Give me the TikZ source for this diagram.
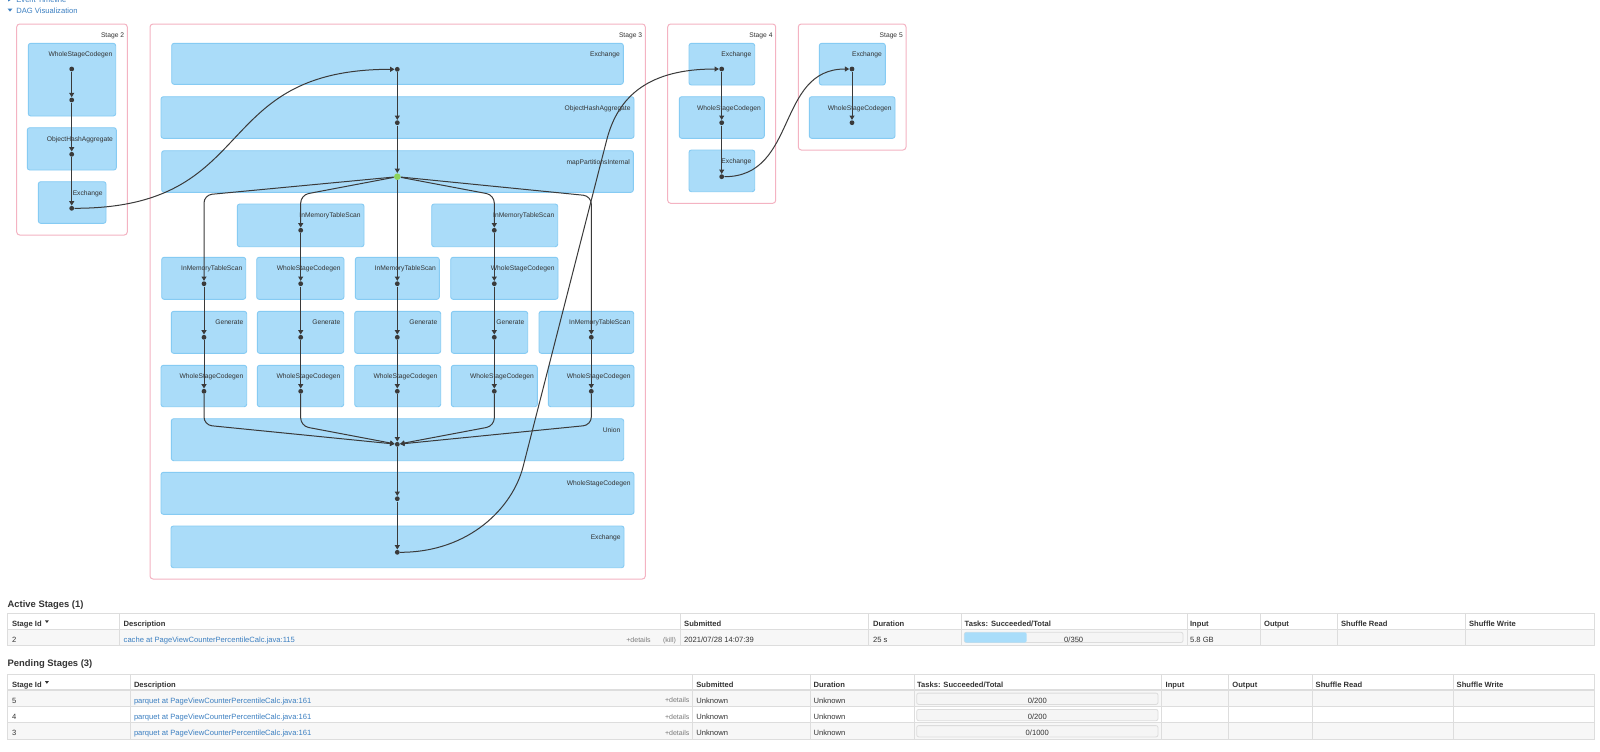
\documentclass[tikz,border=0pt]{standalone}
\usepackage{fontspec}
\setmainfont{Liberation Sans}
\usetikzlibrary{arrows.meta,fit}

\definecolor{nodefill}{HTML}{AADCF9}
\definecolor{nodeline}{HTML}{86CBF3}
\definecolor{stageline}{HTML}{F4B3C2}
\definecolor{ink}{HTML}{333333}
\definecolor{edgec}{HTML}{3A3A3A}
\definecolor{cached}{HTML}{8CD35A}
\definecolor{linkc}{HTML}{3B7FC1}
\definecolor{gridc}{HTML}{DDDDDD}
\definecolor{rowbg}{HTML}{F7F7F7}
\definecolor{barbg}{HTML}{F5F5F5}
\definecolor{barline}{HTML}{DCDCDC}
\definecolor{barfill}{HTML}{A9DDFA}
\definecolor{muted}{HTML}{7A7A7A}

\tikzset{
  stagebox/.style={draw=stageline, fill=white, line width=0.5pt, rounded corners=1.5pt, inner sep=0pt},
  opbox/.style={draw=nodeline, fill=nodefill, line width=0.45pt, rounded corners=1.2pt, inner sep=0pt},
  lbl/.style={font=\fontsize{3.35}{4}\selectfont, text=ink, inner sep=0pt, anchor=mid east},
  rdd/.style={circle, fill=edgec, inner sep=0pt, minimum size=2.4pt},
  rddc/.style={circle, fill=cached, inner sep=0pt, minimum size=3.3pt},
  dep/.style={draw=edgec, line width=0.5pt, -{Triangle[length=2.2pt,width=2.5pt]}},
  hdr/.style={font=\fontsize{3.8}{4.5}\selectfont, text=linkc, inner sep=0pt},
  sect/.style={font=\fontsize{4.7}{5.6}\selectfont\bfseries, text=ink, inner sep=0pt, anchor=mid west},
  th/.style={font=\fontsize{3.8}{4.5}\selectfont\bfseries, text=ink, inner sep=0pt, anchor=mid west},
  td/.style={font=\fontsize{3.8}{4.5}\selectfont, text=ink, inner sep=0pt, anchor=mid west},
  tdl/.style={font=\fontsize{3.8}{4.5}\selectfont, text=linkc, inner sep=0pt, anchor=mid west},
  tdm/.style={font=\fontsize{3.5}{4.2}\selectfont, text=muted, inner sep=0pt},
  tdc/.style={font=\fontsize{3.8}{4.5}\selectfont, text=ink, inner sep=0pt, anchor=mid},
  gridline/.style={draw=gridc, line width=0.5pt},
  headline/.style={draw=gridc, line width=0.8pt},
  barout/.style={draw=barline, fill=barbg, line width=0.4pt, rounded corners=1pt},
  barin/.style={fill=barfill, rounded corners=1pt},
  elbow/.style={rounded corners=4pt},
}

\newcommand\opnode[6]{%
  \node[opbox, fit={(#2,#3)(#4,#5)}] (#1) {};
  \node[lbl] (#1l) at ([shift={(-3.5,8.5)}]#1.north east) {#6};
}
\newcommand\stagenode[6]{%
  \node[stagebox, fit={(#2,#3)(#4,#5)}] (#1) {};
  \node[lbl] (#1l) at ([shift={(-3.3,8.3)}]#1.north east) {#6};
}

\begin{document}
\begin{tikzpicture}[x=0.5pt,y=-0.5pt]
\fill[white] (0,0) rectangle (1600,751);
\useasboundingbox (0,0) rectangle (1600,751);

% header links
\fill[linkc] (8,-2.5) -- (11.5,-0.5) -- (8,1.5) -- cycle;
\node[hdr, anchor=base west] (evt) at (16,2.5) {Event Timeline};
\fill[linkc] (7.6,8.6) -- (12.4,8.6) -- (10,11.6) -- cycle;
\node[hdr, anchor=base west] (dagv) at (16,13) {DAG Visualization};

% stages
\stagenode{st2}{16.7}{24}{127.3}{235}{Stage 2}
\stagenode{st3}{150}{24}{645.3}{579}{Stage 3}
\stagenode{st4}{667.7}{24}{775.7}{203.3}{Stage 4}
\stagenode{st5}{798.3}{24}{906}{150}{Stage 5}

% stage 2 operators
\opnode{n2a}{28.3}{43.3}{115.7}{116}{WholeStageCodegen}
\opnode{n2b}{27.3}{127.7}{116.3}{170}{ObjectHashAggregate}
\opnode{n2c}{38.3}{181.7}{106}{223.3}{Exchange}

% stage 3 operators
\opnode{n3a}{171.7}{43.3}{623.3}{84.3}{Exchange}
\opnode{n3b}{161}{96.7}{634}{138.3}{ObjectHashAggregate}
\opnode{n3c}{161.7}{150.7}{633.3}{192.3}{mapPartitionsInternal}
\opnode{na1}{237.3}{204}{364}{246.7}{InMemoryTableScan}
\opnode{na2}{431.7}{204}{557.7}{246.7}{InMemoryTableScan}
\opnode{nb1}{161.7}{257.3}{245.7}{299.3}{InMemoryTableScan}
\opnode{nb2}{256.7}{257.3}{344}{299.3}{WholeStageCodegen}
\opnode{nb3}{355.3}{257.3}{439.3}{299.3}{InMemoryTableScan}
\opnode{nb4}{450.7}{257.3}{558}{299.3}{WholeStageCodegen}
\opnode{nc1}{171.3}{311.3}{246.7}{353.3}{Generate}
\opnode{nc2}{257.3}{311.3}{343.7}{353.3}{Generate}
\opnode{nc3}{354.7}{311.3}{440.7}{353.3}{Generate}
\opnode{nc4}{451.3}{311.3}{527.7}{353.3}{Generate}
\opnode{nc5}{539}{311.3}{633.7}{353.3}{InMemoryTableScan}
\opnode{nd1}{161}{365.3}{246.7}{406.7}{WholeStageCodegen}
\opnode{nd2}{257.3}{365.3}{343.7}{406.7}{WholeStageCodegen}
\opnode{nd3}{354.7}{365.3}{440.7}{406.7}{WholeStageCodegen}
\opnode{nd4}{451.3}{365.3}{537.3}{406.7}{WholeStageCodegen}
\opnode{nd5}{548.3}{365.3}{634}{406.7}{WholeStageCodegen}
\opnode{nu}{171.3}{418.7}{623.7}{460.7}{Union}
\opnode{ne}{161}{472.3}{634}{514.3}{WholeStageCodegen}
\opnode{nf}{171}{526}{624}{567.7}{Exchange}

% stage 4 / 5 operators
\opnode{n4a}{689}{43.3}{754.7}{85}{Exchange}
\opnode{n4b}{679.3}{96.7}{764.3}{138.3}{WholeStageCodegen}
\opnode{n4c}{689}{150}{754.7}{191.7}{Exchange}
\opnode{n5a}{819.3}{43.3}{885.3}{85}{Exchange}
\opnode{n5b}{809.3}{96.7}{895}{138.3}{WholeStageCodegen}

% RDD dots
\node[rdd] (p21) at (71.7,69) {};
\node[rdd] (p22) at (71.7,100) {};
\node[rdd] (p23) at (71.7,154.3) {};
\node[rdd] (p24) at (71.7,208.3) {};
\node[rdd] (p31) at (397.3,69.3) {};
\node[rdd] (p32) at (397.3,122.7) {};
\node[rddc] (g) at (397.3,176.7) {};
\node[rdd] (a1) at (300.7,230.3) {};
\node[rdd] (a2) at (494.3,230.3) {};
\node[rdd] (b1) at (204,283.7) {};
\node[rdd] (b2) at (300.7,283.7) {};
\node[rdd] (b3) at (397.3,283.7) {};
\node[rdd] (b4) at (494.3,283.7) {};
\node[rdd] (c1) at (204,337.3) {};
\node[rdd] (c2) at (300.7,337.3) {};
\node[rdd] (c3) at (397.3,337.3) {};
\node[rdd] (c4) at (494.3,337.3) {};
\node[rdd] (c5) at (591.3,337.3) {};
\node[rdd] (d1) at (204,391.3) {};
\node[rdd] (d2) at (300.7,391.3) {};
\node[rdd] (d3) at (397.3,391.3) {};
\node[rdd] (d4) at (494.3,391.3) {};
\node[rdd] (d5) at (591.3,391.3) {};
\node[rdd] (pu) at (397.3,444.3) {};
\node[rdd] (pe) at (397.3,498.7) {};
\node[rdd] (pf) at (397.3,552.3) {};
\node[rdd] (p41) at (721.7,69) {};
\node[rdd] (p42) at (721.7,122.7) {};
\node[rdd] (p43) at (721.7,176.7) {};
\node[rdd] (p51) at (852,69) {};
\node[rdd] (p52) at (852,122.7) {};

% edges stage 2
\draw[dep] (p21) -- (p22);
\draw[dep] (p22) -- (p23);
\draw[dep] (p23) -- (p24);
\draw[dep] (p24) .. controls (261.7,208.3) and (207.3,69.3) .. (p31);
% stage 3
\draw[dep] (p31) -- (p32);
\draw[dep] (p32) -- (g);
\draw[dep, elbow] (g) -- (204,195) -- (b1);
\draw[dep, elbow] (g) -- (300.7,195) -- (a1);
\draw[dep] (g) -- (b3);
\draw[dep, elbow] (g) -- (494.3,195) -- (a2);
\draw[dep, elbow] (g) -- (591.3,196) -- (c5);
\draw[dep] (a1) -- (b2);
\draw[dep] (a2) -- (b4);
\draw[dep] (b1) -- (c1);
\draw[dep] (b2) -- (c2);
\draw[dep] (b3) -- (c3);
\draw[dep] (b4) -- (c4);
\draw[dep] (c1) -- (d1);
\draw[dep] (c2) -- (d2);
\draw[dep] (c3) -- (d3);
\draw[dep] (c4) -- (d4);
\draw[dep] (c5) -- (d5);
\draw[dep, elbow] (d1) -- (204,425) -- (pu);
\draw[dep, elbow] (d2) -- (300.7,426) -- (pu);
\draw[dep] (d3) -- (pu);
\draw[dep, elbow] (d4) -- (494.3,426) -- (pu);
\draw[dep, elbow] (d5) -- (591.3,425) -- (pu);
\draw[dep] (pu) -- (pe);
\draw[dep] (pe) -- (pf);
\draw[dep] (pf) .. controls (470,552.3) and (512.7,507) .. (523,467) -- (606.7,140) .. controls (618.2,95) and (650,69) .. (p41);
% stage 4 / 5
\draw[dep] (p41) -- (p42);
\draw[dep] (p42) -- (p43);
\draw[dep] (p43) .. controls (797.7,176.7) and (776,69) .. (p51);
\draw[dep] (p51) -- (p52);

% ===== Active stages table =====
\node[sect] (acttitle) at (7.3,602.3) {Active Stages (1)};
\fill[rowbg] (7.3,629.3) rectangle (1594.7,645.7);
\draw[gridline] (7.3,613.3) rectangle (1594.7,645.7);
\draw[headline] (7.3,629.3) -- (1594.7,629.3);
\foreach \cx in {119.3,680.7,868.3,961,1187.3,1260.3,1337.3,1465.3}
  \draw[gridline] (\cx,613.3) -- (\cx,645.7);
\node[th] (ah1) at (11.7,621) {Stage Id};
\fill[ink] (45,620.4) -- (48.8,620.4) -- (46.9,623) -- cycle;
\node[th] (ah2) at (123.3,621) {Description};
\node[th] (ah3) at (683.8,621) {Submitted};
\node[th] (ah4) at (872.7,621) {Duration};
\node[th] (ah5) at (964.3,621) {Tasks: Succeeded/Total};
\node[th] (ah6) at (1189.7,621) {Input};
\node[th] (ah7) at (1263.7,621) {Output};
\node[th] (ah8) at (1340.7,621) {Shuffle Read};
\node[th] (ah9) at (1468.7,621) {Shuffle Write};
\node[td] (ar1) at (11.7,637.2) {2};
\node[tdl] (ar2) at (123.3,637.2) {cache at PageViewCounterPercentileCalc.java:115};
\node[tdm, anchor=mid west] (ar2d) at (626,636.8) {+details};
\node[tdm, anchor=mid west] (ar2k) at (662.7,636.8) {(kill)};
\node[td] (ar3) at (683.8,637.2) {2021/07/28 14:07:39};
\node[td] (ar4) at (872.7,637.2) {25 s};
\draw[barout] (964.3,632.3) rectangle (1183,642.5);
\fill[barin] (964.3,632.3) rectangle (1026.7,642.5);
\node[tdc] (ar5) at (1073.7,637.2) {0/350};
\node[td] (ar6) at (1189.7,637.2) {5.8 GB};

% ===== Pending stages table =====
\node[sect] (pendtitle) at (7.3,661.7) {Pending Stages (3)};
\fill[rowbg] (7.3,690) rectangle (1594.7,706.7);
\fill[rowbg] (7.3,722.7) rectangle (1594.7,739);
\draw[gridline] (7.3,674.3) rectangle (1594.7,739);
\draw[headline] (7.3,690) -- (1594.7,690);
\draw[gridline] (7.3,706.7) -- (1594.7,706.7);
\draw[gridline] (7.3,722.7) -- (1594.7,722.7);
\foreach \cx in {130.7,692.3,810,914,1161.3,1228.7,1312.3,1453}
  \draw[gridline] (\cx,674.3) -- (\cx,739);
\node[th] (ph1) at (11.7,681.8) {Stage Id};
\fill[ink] (45,681.2) -- (48.8,681.2) -- (46.9,683.8) -- cycle;
\node[th] (ph2) at (133.6,681.8) {Description};
\node[th] (ph3) at (696,681.8) {Submitted};
\node[th] (ph4) at (813.3,681.8) {Duration};
\node[th] (ph5) at (916.7,681.8) {Tasks: Succeeded/Total};
\node[th] (ph6) at (1165.3,681.8) {Input};
\node[th] (ph7) at (1232,681.8) {Output};
\node[th] (ph8) at (1315.3,681.8) {Shuffle Read};
\node[th] (ph9) at (1456.3,681.8) {Shuffle Write};

\foreach \sid/\yy/\tot [count=\i] in {5/698.1/200, 4/714.4/200, 3/730.6/1000} {
  \node[td] (pid\i) at (11.7,\yy) {\sid};
  \node[tdl] (pdesc\i) at (133.6,\yy) {parquet at PageViewCounterPercentileCalc.java:161};
  \node[tdm, anchor=mid east] (pdet\i) at (689.8,\yy-0.6) {+details};
  \node[td] (psub\i) at (696,\yy) {Unknown};
  \node[td] (pdur\i) at (813.3,\yy) {Unknown};
  \draw[barout] (916.7,\yy-5) rectangle (1158,\yy+6.3);
  \node[tdc] (ptask\i) at (1037.3,\yy) {0/\tot};
}
\end{tikzpicture}
\end{document}
